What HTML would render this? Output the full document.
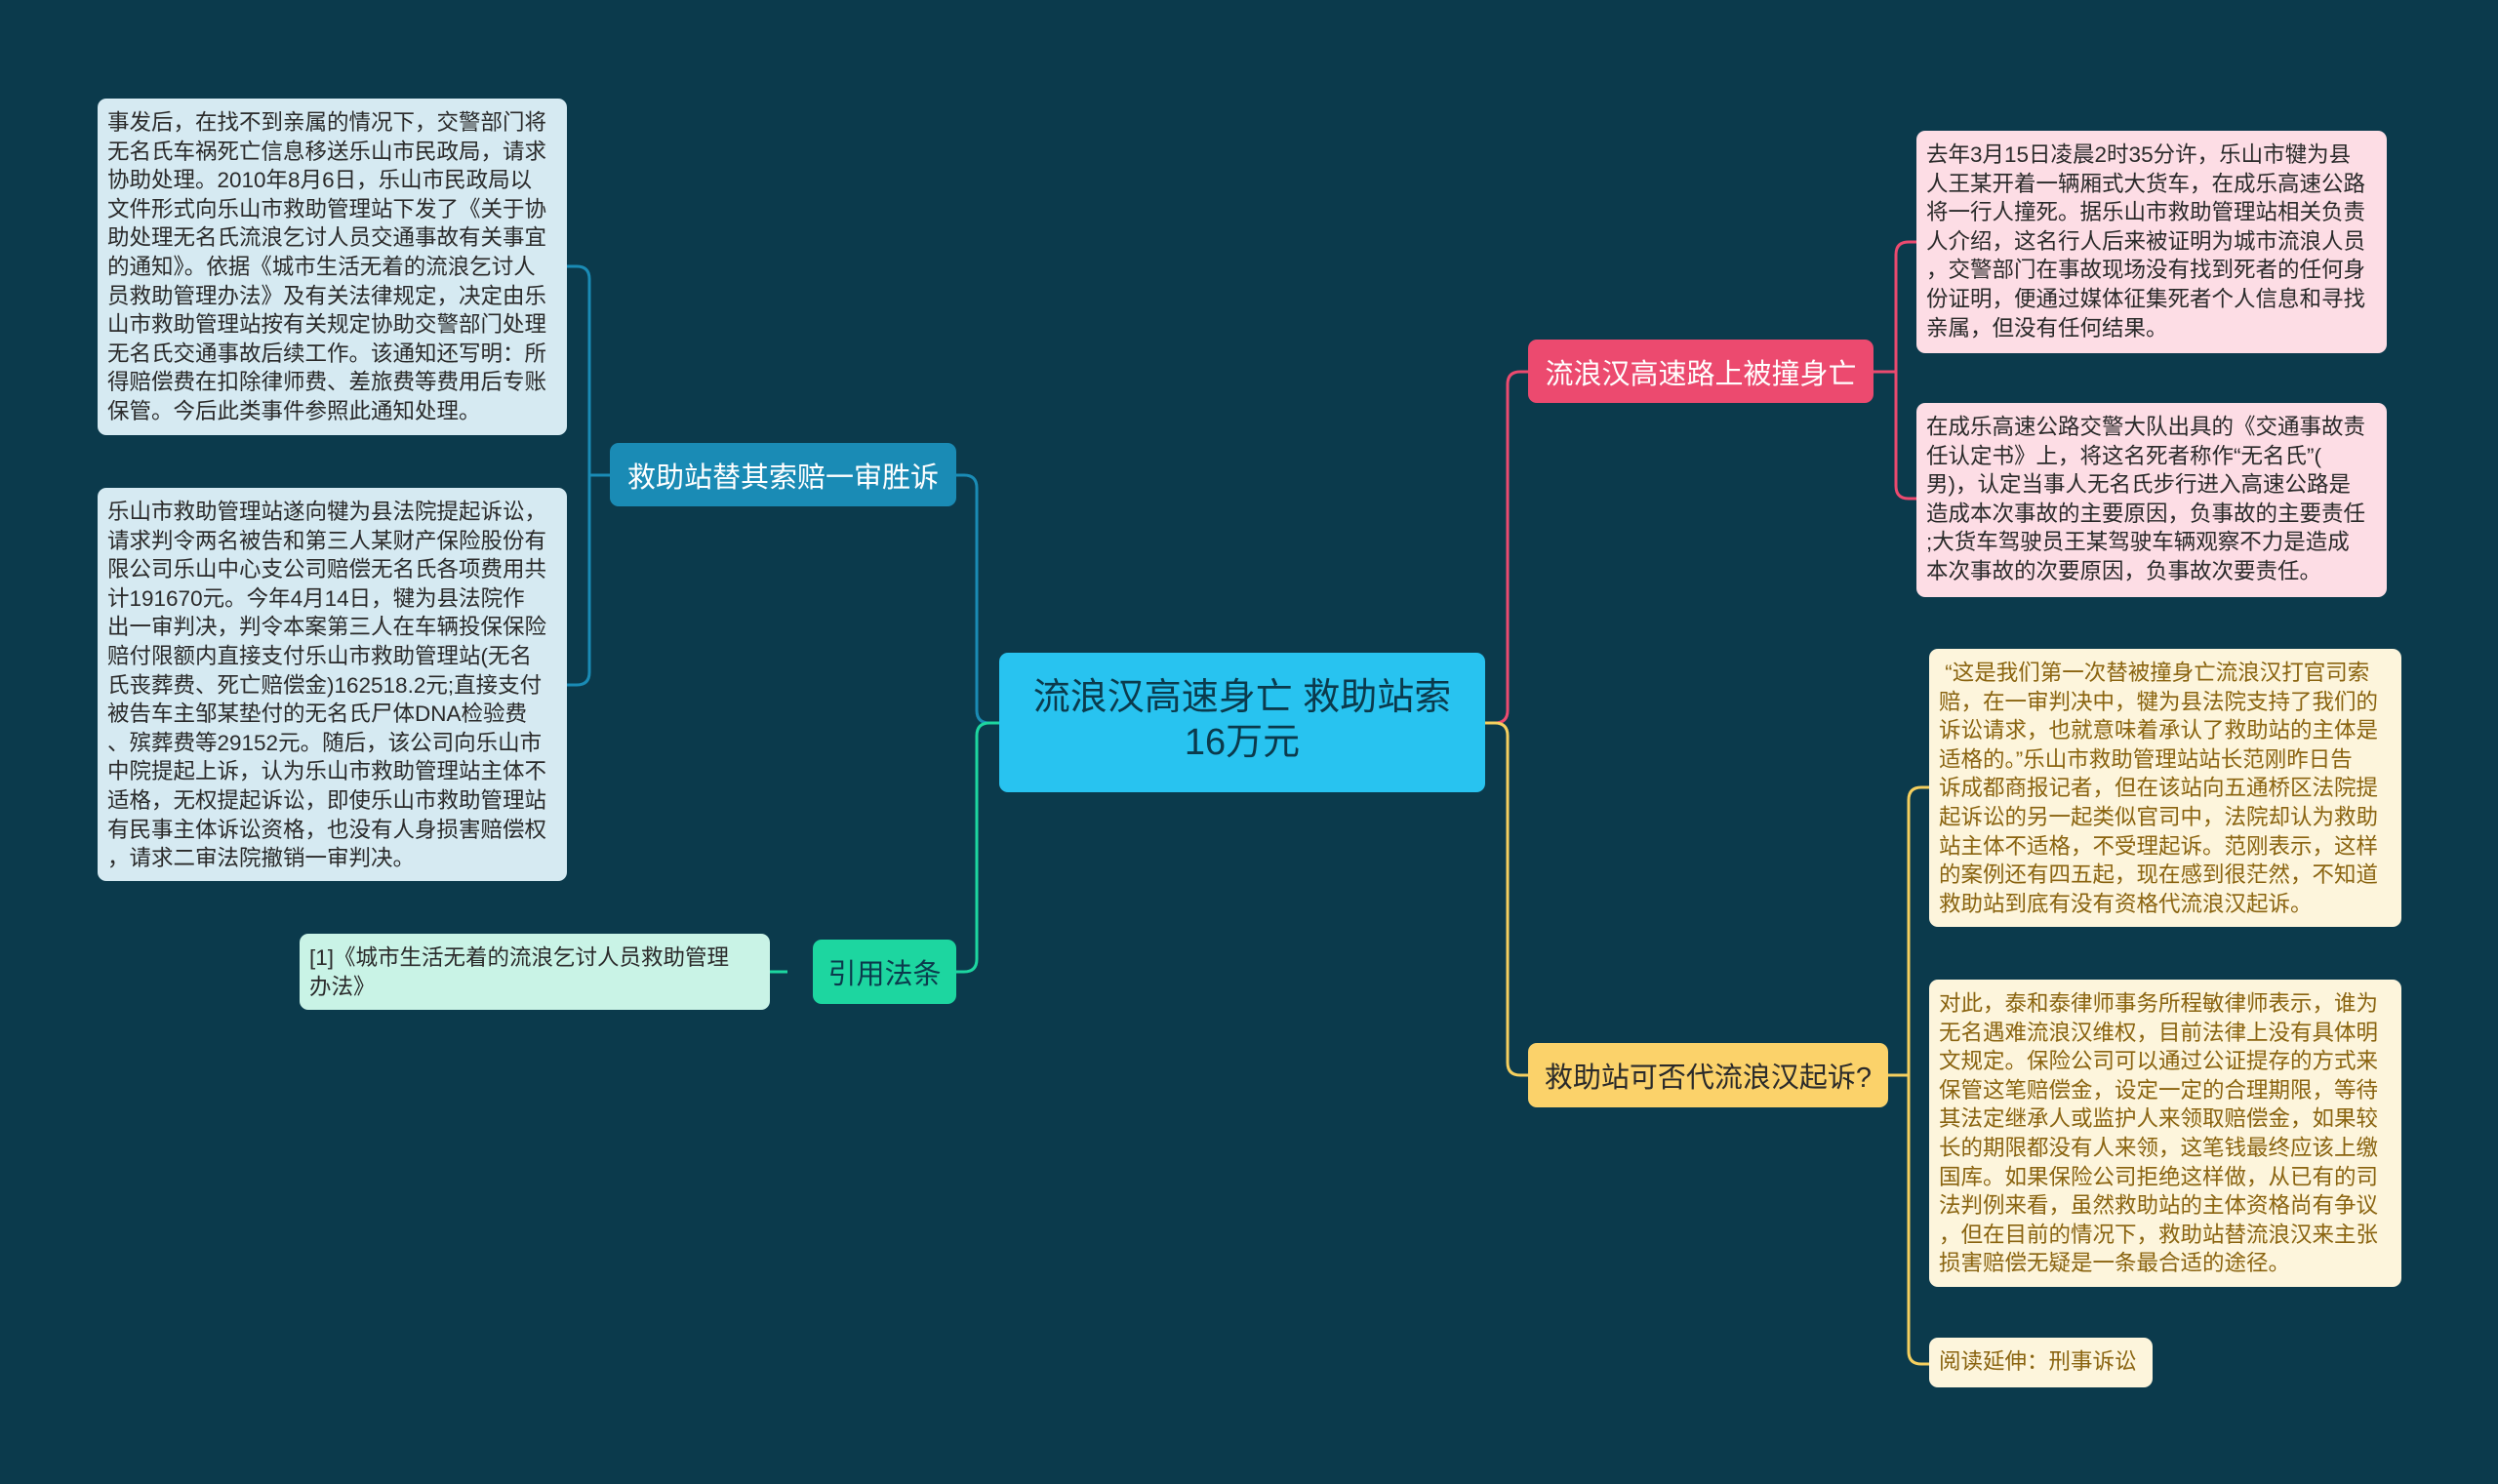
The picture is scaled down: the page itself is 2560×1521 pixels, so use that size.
<!DOCTYPE html>
<html><head><meta charset="utf-8"><style>
body{margin:0;width:2560px;height:1521px;background:#0b3a4c;overflow:hidden;font-family:"Liberation Sans","Noto Sans CJK SC",sans-serif;position:relative}
.b{position:absolute;box-sizing:border-box;border-radius:9px;white-space:nowrap}
.leaf{font-size:22.5px;line-height:29.6px;padding:10px 10px}
.node{font-size:29px;display:flex;align-items:center;justify-content:center}
svg{position:absolute;left:0;top:0}
</style></head><body>
<svg width="2560" height="1521" fill="none" stroke-width="3">
<path d="M1024 741 H1014 Q1001 741 1001 728 V500 Q1001 487 988 487 H980" stroke="#1a8bb5"/>
<path d="M1024 741 H1014 Q1001 741 1001 754 V983 Q1001 996 988 996 H980" stroke="#1dd6a0"/>
<path d="M1522 741 H1532 Q1545 741 1545 728 V394 Q1545 381 1558 381 H1566" stroke="#ec4a6f"/>
<path d="M1522 741 H1532 Q1545 741 1545 754 V1089 Q1545 1102 1558 1102 H1566" stroke="#f5cf5e"/>
<path d="M625 487 H604 M581 273 H591 Q604 273 604 286 V689 Q604 702 591 702 H581" stroke="#1a8bb5"/>
<path d="M807 996 H789" stroke="#1dd6a0"/>
<path d="M1920 381 H1943 M1964 248 H1956 Q1943 248 1943 261 V498 Q1943 511 1956 511 H1964" stroke="#ec4a6f"/>
<path d="M1935 1102 H1956 M1977 807 H1969 Q1956 807 1956 820 V1385 Q1956 1398 1969 1398 H1977" stroke="#f5cf5e"/>
</svg>
<div class="b leaf" style="left:100px;top:101px;width:481px;height:345px;background:#d6eaf2;color:#2a2a2a">事发后，在找不到亲属的情况下，交警部门将<br>无名氏车祸死亡信息移送乐山市民政局，请求<br>协助处理。2010年8月6日，乐山市民政局以<br>文件形式向乐山市救助管理站下发了《关于协<br>助处理无名氏流浪乞讨人员交通事故有关事宜<br>的通知》。依据《城市生活无着的流浪乞讨人<br>员救助管理办法》及有关法律规定，决定由乐<br>山市救助管理站按有关规定协助交警部门处理<br>无名氏交通事故后续工作。该通知还写明：所<br>得赔偿费在扣除律师费、差旅费等费用后专账<br>保管。今后此类事件参照此通知处理。</div>
<div class="b leaf" style="left:100px;top:500px;width:481px;height:403px;background:#d6eaf2;color:#2a2a2a">乐山市救助管理站遂向犍为县法院提起诉讼，<br>请求判令两名被告和第三人某财产保险股份有<br>限公司乐山中心支公司赔偿无名氏各项费用共<br>计191670元。今年4月14日，犍为县法院作<br>出一审判决，判令本案第三人在车辆投保保险<br>赔付限额内直接支付乐山市救助管理站(无名<br>氏丧葬费、死亡赔偿金)162518.2元;直接支付<br>被告车主邹某垫付的无名氏尸体DNA检验费<br>、殡葬费等29152元。随后，该公司向乐山市<br>中院提起上诉，认为乐山市救助管理站主体不<br>适格，无权提起诉讼，即使乐山市救助管理站<br>有民事主体诉讼资格，也没有人身损害赔偿权<br>，请求二审法院撤销一审判决。</div>
<div class="b node" style="left:625px;top:454px;width:355px;height:65px;background:#1a8bb5;color:#fff">救助站替其索赔一审胜诉</div>
<div class="b node" style="left:833px;top:963px;width:147px;height:66px;background:#1dd6a0;color:#0b3a4c">引用法条</div>
<div class="b leaf" style="left:307px;top:957px;width:482px;height:78px;background:#c9f3e6;color:#2a2a2a">[1]《城市生活无着的流浪乞讨人员救助管理<br>办法》</div>
<div class="b" style="left:1024px;top:669px;width:498px;height:143px;background:#28c3f0;color:#0b3a4c;font-size:38px;line-height:46px;text-align:center;padding-top:23px">流浪汉高速身亡 救助站索<br>16万元</div>
<div class="b node" style="left:1566px;top:348px;width:354px;height:65px;background:#ec4a6f;color:#fff">流浪汉高速路上被撞身亡</div>
<div class="b leaf" style="left:1964px;top:134px;width:482px;height:228px;background:#fddde5;color:#2a2a2a">去年3月15日凌晨2时35分许，乐山市犍为县<br>人王某开着一辆厢式大货车，在成乐高速公路<br>将一行人撞死。据乐山市救助管理站相关负责<br>人介绍，这名行人后来被证明为城市流浪人员<br>，交警部门在事故现场没有找到死者的任何身<br>份证明，便通过媒体征集死者个人信息和寻找<br>亲属，但没有任何结果。</div>
<div class="b leaf" style="left:1964px;top:413px;width:482px;height:199px;background:#fddde5;color:#2a2a2a">在成乐高速公路交警大队出具的《交通事故责<br>任认定书》上，将这名死者称作“无名氏”(<br>男)，认定当事人无名氏步行进入高速公路是<br>造成本次事故的主要原因，负事故的主要责任<br>;大货车驾驶员王某驾驶车辆观察不力是造成<br>本次事故的次要原因，负事故次要责任。</div>
<div class="b node" style="left:1566px;top:1069px;width:369px;height:66px;background:#fbd26a;color:#2a2a2a">救助站可否代流浪汉起诉?</div>
<div class="b leaf" style="left:1977px;top:665px;width:484px;height:285px;background:#fdf5dc;color:#8a6410">&nbsp;“这是我们第一次替被撞身亡流浪汉打官司索<br>赔，在一审判决中，犍为县法院支持了我们的<br>诉讼请求，也就意味着承认了救助站的主体是<br>适格的。”乐山市救助管理站站长范刚昨日告<br>诉成都商报记者，但在该站向五通桥区法院提<br>起诉讼的另一起类似官司中，法院却认为救助<br>站主体不适格，不受理起诉。范刚表示，这样<br>的案例还有四五起，现在感到很茫然，不知道<br>救助站到底有没有资格代流浪汉起诉。</div>
<div class="b leaf" style="left:1977px;top:1004px;width:484px;height:315px;background:#fdf5dc;color:#8a6410">对此，泰和泰律师事务所程敏律师表示，谁为<br>无名遇难流浪汉维权，目前法律上没有具体明<br>文规定。保险公司可以通过公证提存的方式来<br>保管这笔赔偿金，设定一定的合理期限，等待<br>其法定继承人或监护人来领取赔偿金，如果较<br>长的期限都没有人来领，这笔钱最终应该上缴<br>国库。如果保险公司拒绝这样做，从已有的司<br>法判例来看，虽然救助站的主体资格尚有争议<br>，但在目前的情况下，救助站替流浪汉来主张<br>损害赔偿无疑是一条最合适的途径。</div>
<div class="b leaf" style="left:1977px;top:1371px;width:229px;height:51px;background:#fdf5dc;color:#8a6410">阅读延伸：刑事诉讼</div>
</body></html>
